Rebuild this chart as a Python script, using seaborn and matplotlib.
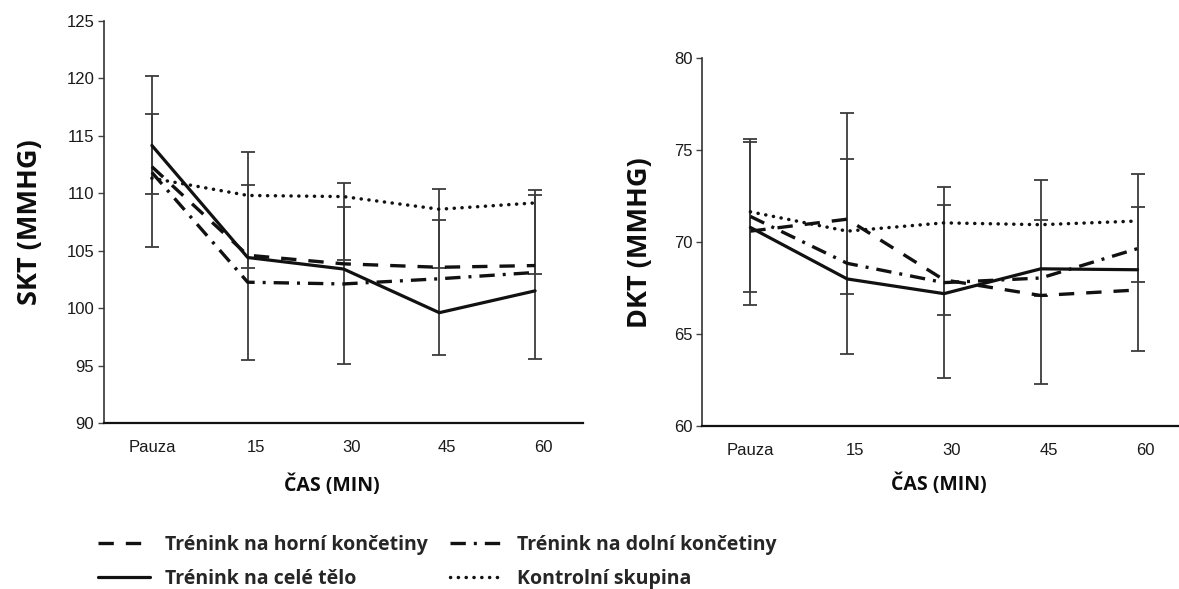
import numpy as np
import pandas as pd
import matplotlib
matplotlib.use("Agg")
import matplotlib.pyplot as plt
from matplotlib.lines import Line2D
from matplotlib.transforms import ScaledTranslation
import seaborn as sns

# ---- data -------------------------------------------------------------
time_labels = ["Pauza", "15", "30", "45", "60"]

group_names = ["Trénink na horní končetiny", "Trénink na celé tělo",
               "Trénink na dolní končetiny", "Kontrolní skupina"]

# systolic pressure (SKT, mmHg)
skt_horni = [112.3, 104.6, 103.85, 103.55, 103.7]
skt_cele = [114.15, 104.4, 103.4, 99.6, 101.5]
skt_dolni = [111.8, 102.25, 102.1, 102.55, 103.1]
skt_kontrol = [111.3, 109.8, 109.7, 108.6, 109.15]

skt_err_outer_lo = [105.3, 95.5, 95.15, 95.95, 95.6]
skt_err_outer_hi = [120.2, 113.6, 110.85, 110.4, 110.25]
skt_err_inner_lo = [109.95, 103.5, 104.15, 103.5, 103.0]
skt_err_inner_hi = [116.85, 110.7, 108.8, 107.65, 109.85]

# diastolic pressure (DKT, mmHg)
dkt_horni = [70.6, 71.25, 67.95, 67.1, 67.4]
dkt_cele = [70.8, 68.0, 67.2, 68.55, 68.5]
dkt_dolni = [71.4, 68.85, 67.8, 68.05, 69.65]
dkt_kontrol = [71.65, 70.6, 71.05, 70.95, 71.15]

dkt_err_outer_lo = [66.6, 63.9, 62.6, 62.3, 64.1]
dkt_err_outer_hi = [75.6, 77.05, 73.0, 73.4, 73.7]
dkt_err_inner_lo = [67.3, 67.2, 66.05, 67.05, 67.85]
dkt_err_inner_hi = [75.45, 74.5, 72.0, 71.2, 71.9]

# ---- styling ----------------------------------------------------------
sns.set_theme(style="white")
plt.rcParams["font.family"] = ["Liberation Sans", "DejaVu Sans"]

LINE = "#111111"
STYLES = {
    "Trénink na horní končetiny": dict(linestyle=(0, (4.6, 3.6)), lw=2.4, dash_capstyle="butt"),
    "Trénink na celé tělo": dict(linestyle="-", lw=2.3),
    "Trénink na dolní končetiny": dict(linestyle=(0, (4.6, 2.4, 0.9, 2.4)), lw=2.4, dash_capstyle="butt"),
    "Kontrolní skupina": dict(linestyle=(0, (0.05, 2.2)), lw=2.5, dash_capstyle="round"),
}

LABEL_FONT = ["Open Sans", "DejaVu Sans"]

fig = plt.figure(figsize=(11.79, 5.89), dpi=100)
fig.patch.set_facecolor("white")

ax_l = fig.add_axes([0.0882, 0.2818, 0.4063, 0.6830])
ax_r = fig.add_axes([0.5954, 0.2767, 0.4105, 0.6243])

x = np.arange(len(time_labels))


def draw_panel(ax, series, err_sets, ylim, yticks, ylabel, ylabel_x):
    for lo, hi in err_sets:
        lo = np.asarray(lo)
        hi = np.asarray(hi)
        ax.errorbar(x, (lo + hi) / 2, yerr=(hi - lo) / 2, fmt="none",
                    ecolor="#3c3c3c", elinewidth=1.3, capsize=4.8,
                    capthick=1.3, zorder=2)
    for name, vals in series.items():
        df = pd.DataFrame({"pos": x, "val": vals})
        sns.lineplot(data=df, x="pos", y="val", ax=ax, color=LINE,
                     zorder=3, legend=False, **STYLES[name])

    ax.set_xlim(-0.5, 4.5)
    ax.set_ylim(*ylim)
    ax.set_yticks(yticks)
    ax.set_yticklabels([str(t) for t in yticks])

    ax.set_xticks(x)
    ax.set_xticklabels(time_labels)
    ax.set_xticks(np.arange(0.5, 5.0, 1.0), minor=True)
    ax.tick_params(axis="x", which="major", length=0, pad=12,
                   labelsize=12, labelcolor="#1a1a1a")
    ax.tick_params(axis="x", which="minor", length=5, width=1.5,
                   direction="out", color="#222222")
    ax.tick_params(axis="y", which="major", length=4, width=1.0,
                   direction="out", color="#444444", pad=3,
                   labelsize=12, labelcolor="#1a1a1a", left=True)

    # numeric time labels sit a little right of their category centre
    shift = ScaledTranslation(8 / 100, 0, fig.dpi_scale_trans)
    for lbl in ax.get_xticklabels()[1:]:
        lbl.set_transform(lbl.get_transform() + shift)

    for side in ("top", "right"):
        ax.spines[side].set_visible(False)
    ax.spines["left"].set_color("#333333")
    ax.spines["left"].set_linewidth(1.2)
    ax.spines["bottom"].set_color("#111111")
    ax.spines["bottom"].set_linewidth(1.6)
    ax.set_facecolor("white")
    ax.grid(False)

    ax.set_ylabel(ylabel, fontsize=19.5, fontweight="bold",
                  family=LABEL_FONT, color="#0d0d0d")
    ax.yaxis.set_label_coords(ylabel_x, 0.5)
    ax.set_xlabel("ČAS (MIN)", fontsize=14, fontweight="bold",
                  family=LABEL_FONT, color="#0d0d0d")


draw_panel(
    ax_l,
    {
        "Trénink na horní končetiny": skt_horni,
        "Trénink na dolní končetiny": skt_dolni,
        "Trénink na celé tělo": skt_cele,
        "Kontrolní skupina": skt_kontrol,
    },
    [(skt_err_outer_lo, skt_err_outer_hi), (skt_err_inner_lo, skt_err_inner_hi)],
    (90, 125), [90, 95, 100, 105, 110, 115, 120, 125],
    "SKT (MMHG)", -0.128,
)
ax_l.xaxis.set_label_coords(0.475, -0.128)

draw_panel(
    ax_r,
    {
        "Trénink na horní končetiny": dkt_horni,
        "Trénink na dolní končetiny": dkt_dolni,
        "Trénink na celé tělo": dkt_cele,
        "Kontrolní skupina": dkt_kontrol,
    },
    [(dkt_err_outer_lo, dkt_err_outer_hi), (dkt_err_inner_lo, dkt_err_inner_hi)],
    (60, 80), [60, 65, 70, 75, 80],
    "DKT (MMHG)", -0.102,
)
ax_r.xaxis.set_label_coords(0.49, -0.13)

# ---- shared legend below the panels ----------------------------------
handles = [Line2D([0], [0], color=LINE, **STYLES[n]) for n in group_names]
fig.legend(
    handles, group_names, loc="upper left", bbox_to_anchor=(0.0745, 0.108),
    ncol=2, frameon=False, borderpad=0, handlelength=2.7,
    handletextpad=0.75, columnspacing=1.15, labelspacing=0.72,
    prop=dict(family=LABEL_FONT, weight="bold", size=14),
)

fig.savefig("out.png", dpi=100, facecolor="white")
